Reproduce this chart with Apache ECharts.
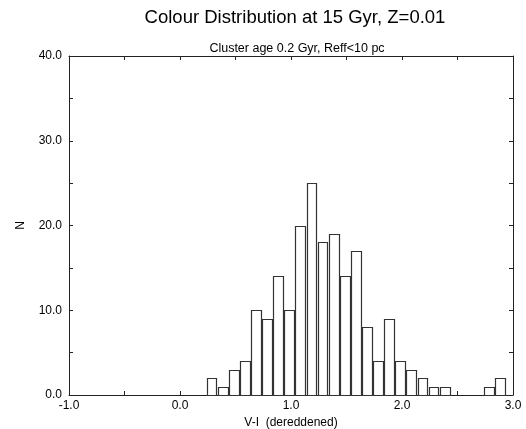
<!DOCTYPE html>
<html>
<head>
<meta charset="utf-8">
<script src="https://cdn.jsdelivr.net/npm/echarts@6/dist/echarts.min.js"></script>
<style>html,body{margin:0;padding:0;background:#fff}#c{width:526px;height:429px}</style>
</head>
<body>
<div id="c"></div>
<script>
// Left edges of the histogram bins (V-I)
const binLeft = [0.24,0.34,0.44,0.54,0.64,0.74,0.84,0.94,1.04,1.14,1.24,1.34,1.44,1.54,1.64,1.74,1.84,1.94,2.04,2.14,2.24,2.34,2.44,2.54,2.64,2.74,2.84];
// Counts N per bin
const counts = [2,1,3,4,10,9,14,10,20,25,18,19,14,17,8,4,9,4,3,2,1,1,0,0,0,1,2];
const BAR_W = 0.088;

const titleText = 'Colour Distribution at 15 Gyr, Z=0.01';
const subText = 'Cluster age 0.2 Gyr, Reff<10 pc';
const xName = 'V-I  (dereddened)';
const yName = 'N';

const data = [];
binLeft.forEach((l, i) => { if (counts[i] > 0) data.push([l, l + BAR_W, counts[i]]); });

const FONT = '"Liberation Sans", Arial, sans-serif';
const lineCol = '#222';
const chart = echarts.init(document.getElementById('c'), null, {renderer: 'canvas'});
const fmt = v => v.toFixed(1);
function axisBase(extra) {
  return Object.assign({
    axisLine: {show: true, onZero: false, lineStyle: {color: lineCol, width: 1}},
    axisTick: {show: true, inside: true, length: 4, lineStyle: {color: lineCol}},
    minorTick: {show: true, splitNumber: 2, length: 4, lineStyle: {color: lineCol}},
    splitLine: {show: false}
  }, extra);
}
chart.setOption({
  animation: false,
  backgroundColor: '#fff',
  title: [
    {text: titleText, left: 290, top: 3, textAlign: 'center',
     textStyle: {fontFamily: FONT, fontSize: 18.5, fontWeight: 'normal', color: '#000'}},
    {text: subText, left: 292, top: 37, textAlign: 'center',
     textStyle: {fontFamily: FONT, fontSize: 12.5, fontWeight: 'normal', color: '#000'}}
  ],
  grid: {left: 69, right: 13, top: 56, bottom: 34, containLabel: false, outerBoundsMode: 'none'},
  xAxis: [
    axisBase({type: 'value', min: -1, max: 3, interval: 1, position: 'bottom',
     name: xName, nameLocation: 'middle', nameGap: 21,
     nameTextStyle: {fontFamily: FONT, fontSize: 12, color: '#000'},
     axisLabel: {formatter: fmt, fontFamily: FONT, fontSize: 12, color: '#000', margin: 5}}),
    axisBase({type: 'value', min: -1, max: 3, interval: 1, position: 'top',
     axisLabel: {show: false}})
  ],
  yAxis: [
    axisBase({type: 'value', min: 0, max: 40, interval: 10, position: 'left',
     name: yName, nameLocation: 'middle', nameGap: 42, nameRotate: 90,
     nameTextStyle: {fontFamily: FONT, fontSize: 12, color: '#000'},
     axisLabel: {formatter: fmt, fontFamily: FONT, fontSize: 12, color: '#000', margin: 7}}),
    axisBase({type: 'value', min: 0, max: 40, interval: 10, position: 'right',
     axisLabel: {show: false}})
  ],
  series: [{
    type: 'custom',
    xAxisIndex: 0, yAxisIndex: 0,
    data: data,
    encode: {x: [0, 1], y: 2},
    renderItem: function (params, api) {
      const p0 = api.coord([api.value(0), api.value(2)]);
      const p1 = api.coord([api.value(1), 0]);
      const x0 = Math.round(p0[0]) + 0.5, x1 = Math.round(p1[0]) + 0.5;
      const y0 = Math.round(p0[1]) + 0.5, y1 = Math.round(p1[1]) + 0.5;
      return {type: 'rect', shape: {x: x0, y: y0, width: x1 - x0, height: y1 - y0},
              style: {fill: '#fff', stroke: '#333', lineWidth: 1.2}};
    }
  }]
});
</script>
</body>
</html>
